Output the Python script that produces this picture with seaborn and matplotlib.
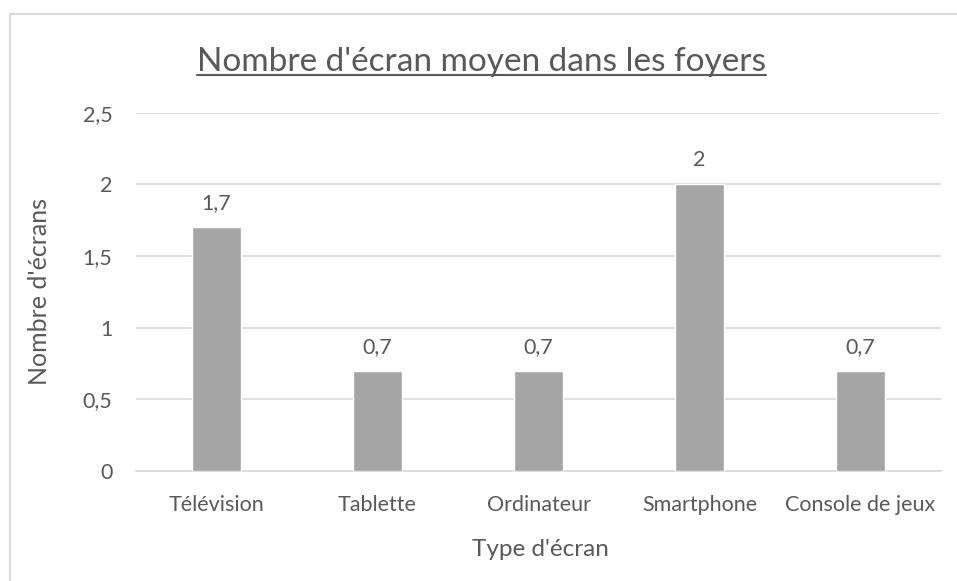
import seaborn as sns
import matplotlib.pyplot as plt
import pandas as pd
from matplotlib.lines import Line2D

# donnees
categories = ['Télévision', 'Tablette', 'Ordinateur', 'Smartphone', 'Console de jeux']
valeurs = [1.7, 0.7, 0.7, 2.0, 0.7]
ticks_y = [0, 0.5, 1, 1.5, 2, 2.5]

df = pd.DataFrame({'type': categories, 'nombre': valeurs})

sns.set_style('white')
plt.rcParams['font.family'] = ['Lato', 'DejaVu Sans']
gris_texte = '#595959'

fig = plt.figure(figsize=(9.57, 5.81), dpi=100)
ax = fig.add_axes([136 / 957, 1 - 471 / 581, 805 / 957, (471 - 112.7) / 581])

sns.barplot(data=df, x='type', y='nombre', color='#a5a5a5', width=0.31,
            saturation=1, ax=ax, zorder=3)

ax.set_ylim(0, 2.5)
ax.set_xlim(-0.5, len(categories) - 0.5)
ax.set_yticks(ticks_y)
ax.set_yticklabels([('%g' % t).replace('.', ',') for t in ticks_y])
ax.yaxis.grid(True, color='#d9d9d9', linewidth=1.2, zorder=0)
for s in ['top', 'right', 'left']:
    ax.spines[s].set_visible(False)
ax.spines['bottom'].set_color('#d9d9d9')
ax.spines['bottom'].set_linewidth(1.2)
ax.tick_params(axis='both', length=0, labelsize=15.5, colors=gris_texte)
ax.tick_params(axis='x', pad=17)
ax.tick_params(axis='y', pad=17)

# etiquettes des barres
for c in ax.containers:
    labels = [('%g' % v).replace('.', ',') for v in c.datavalues]
    ax.bar_label(c, labels=labels, padding=10, fontsize=15.5, color=gris_texte)

ax.set_xlabel("Type d'écran", fontsize=17.5, color=gris_texte)
ax.set_ylabel("Nombre d'écrans", fontsize=18, color=gris_texte)
ax.xaxis.set_label_coords(0.5027, (471 - 549) / 358.3)
ax.yaxis.set_label_coords((40 - 136) / 805, 0.5)
ax.xaxis.label.set_va('center')
ax.yaxis.label.set_va('center')

# titre souligne
titre = fig.text(481 / 957, 1 - 62 / 581, "Nombre d'écran moyen dans les foyers",
                 ha='center', va='center', fontsize=24, color=gris_texte)
fig.canvas.draw()
bb = titre.get_window_extent().transformed(fig.transFigure.inverted())
fig.add_artist(Line2D([bb.x0, bb.x1], [bb.y0 + 0.004, bb.y0 + 0.004],
                      transform=fig.transFigure, color=gris_texte, linewidth=1.5))

# cadre du graphique
fig.add_artist(Line2D([9.5 / 957, 9.5 / 957, 1.0], [0.0, 1 - 13.5 / 581, 1 - 13.5 / 581],
                      transform=fig.transFigure, color='#d9d9d9', linewidth=1.5))

fig.savefig('out.png', dpi=100)
